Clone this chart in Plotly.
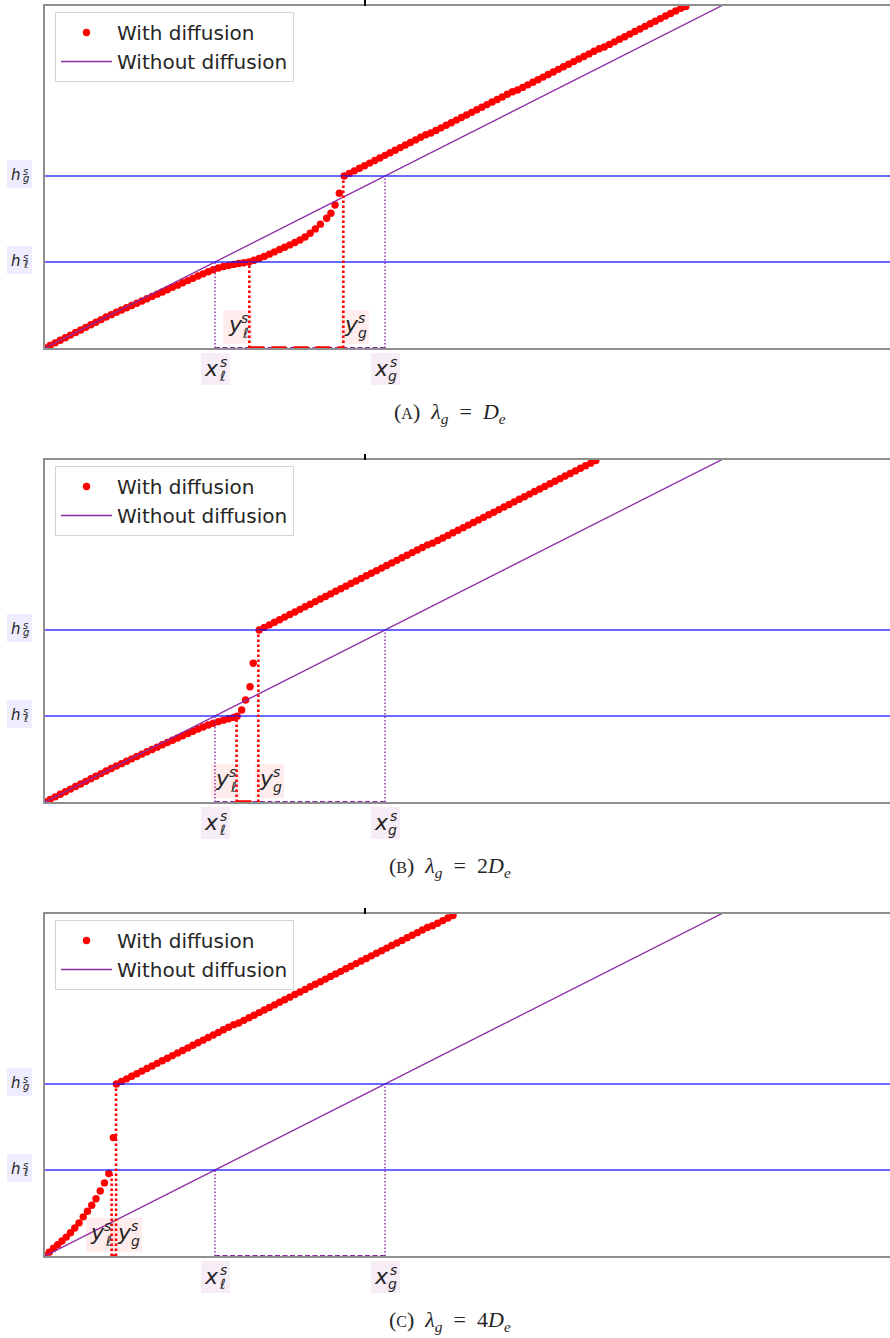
import plotly.graph_objects as go

# ── shared levels (scaled units: h_l^s = x_l^s = 1) ──────────────────────────
H_L, H_G = 1.0, 2.0
X_L, X_G = 1.0, 2.0
SHARP_X = [0.0, 5.0]          # "Without diffusion": straight line h = x
SHARP_Y = [0.0, 5.0]

# ── panel A : λg = De ─────────────────────────────────────────────────────────
A_LOW_X = [0.00, 0.03, 0.06, 0.09, 0.12, 0.15, 0.18, 0.21, 0.24, 0.27, 0.30, 0.33, 0.36,
           0.39, 0.42, 0.45, 0.48, 0.51, 0.54, 0.57, 0.60, 0.63, 0.66, 0.69, 0.72, 0.75,
           0.78, 0.81, 0.84, 0.87, 0.90, 0.93, 0.96, 0.99, 1.02, 1.05, 1.08, 1.11, 1.14,
           1.17, 1.20]
A_LOW_Y = [0.00, 0.03, 0.06, 0.09, 0.12, 0.15, 0.18, 0.21, 0.24, 0.27, 0.30, 0.33, 0.36,
           0.388, 0.415, 0.442, 0.468, 0.494, 0.52, 0.547, 0.573, 0.60, 0.626, 0.652, 0.678,
           0.705, 0.731, 0.758, 0.784, 0.81, 0.837, 0.862, 0.887, 0.91, 0.93, 0.947, 0.96,
           0.972, 0.982, 0.991, 1.0]
A_MID_X = [1.23, 1.26, 1.29, 1.32, 1.35, 1.38, 1.41, 1.44, 1.47, 1.50, 1.53, 1.56, 1.59,
           1.62, 1.657, 1.682, 1.706, 1.731]
A_MID_Y = [1.02, 1.042, 1.065, 1.091, 1.118, 1.145, 1.172, 1.199, 1.226, 1.255, 1.29, 1.335,
           1.385, 1.44, 1.508, 1.566, 1.663, 1.799]
A_UP_X = [1.76, 1.79, 1.82, 1.85, 1.88, 1.91, 1.94, 1.97, 2.00, 2.03, 2.06, 2.09, 2.12, 2.15,
          2.18, 2.21, 2.24, 2.27, 2.30, 2.33, 2.36, 2.39, 2.42, 2.45, 2.48, 2.51, 2.54, 2.57,
          2.60, 2.63, 2.66, 2.69, 2.72, 2.75, 2.78, 2.81, 2.84, 2.87, 2.90, 2.93, 2.96, 2.99,
          3.02, 3.05, 3.08, 3.11, 3.14, 3.17, 3.20, 3.23, 3.26, 3.29, 3.32, 3.35, 3.38, 3.41,
          3.44, 3.47, 3.50, 3.53, 3.56, 3.59, 3.62, 3.65, 3.68, 3.71, 3.74, 3.77]
A_UP_Y = [2.00, 2.03, 2.06, 2.09, 2.12, 2.15, 2.18, 2.21, 2.24, 2.27, 2.30, 2.33, 2.36, 2.39,
          2.42, 2.45, 2.48, 2.50, 2.53, 2.56, 2.59, 2.62, 2.65, 2.68, 2.71, 2.74, 2.77, 2.80,
          2.83, 2.86, 2.89, 2.92, 2.95, 2.98, 3.00, 3.03, 3.06, 3.09, 3.12, 3.15, 3.18, 3.21,
          3.24, 3.27, 3.30, 3.33, 3.36, 3.39, 3.42, 3.45, 3.48, 3.50, 3.53, 3.56, 3.59, 3.62,
          3.65, 3.68, 3.71, 3.74, 3.77, 3.80, 3.83, 3.86, 3.89, 3.92, 3.95, 3.97]
A_YL, A_YG = 1.202, 1.755      # y_l^s, y_g^s
A_YL_TOP = 1.0

# ── panel B : λg = 2De ────────────────────────────────────────────────────────
B_LOW_X = [0.00, 0.03, 0.06, 0.09, 0.12, 0.15, 0.18, 0.21, 0.24, 0.27, 0.30, 0.33, 0.36,
           0.39, 0.42, 0.45, 0.48, 0.51, 0.54, 0.57, 0.60, 0.63, 0.66, 0.69, 0.72, 0.75,
           0.78, 0.81, 0.84, 0.87, 0.90, 0.93, 0.96, 0.99, 1.02, 1.05, 1.08, 1.11, 1.13]
B_LOW_Y = [0.00, 0.03, 0.06, 0.09, 0.12, 0.15, 0.18, 0.21, 0.24, 0.27, 0.30, 0.33, 0.36,
           0.39, 0.418, 0.446, 0.474, 0.502, 0.529, 0.557, 0.584, 0.611, 0.638, 0.665, 0.691,
           0.718, 0.744, 0.77, 0.796, 0.822, 0.848, 0.872, 0.895, 0.916, 0.935, 0.952, 0.968,
           0.984, 0.998]
B_MID_X = [1.157, 1.18, 1.206, 1.225]
B_MID_Y = [1.07, 1.186, 1.34, 1.613]
B_UP_X = [1.26, 1.29, 1.32, 1.35, 1.38, 1.41, 1.44, 1.47, 1.50, 1.53, 1.56, 1.59, 1.62, 1.65,
          1.68, 1.71, 1.74, 1.77, 1.80, 1.83, 1.86, 1.89, 1.92, 1.95, 1.98, 2.01, 2.04, 2.07,
          2.10, 2.13, 2.16, 2.19, 2.22, 2.25, 2.28, 2.31, 2.34, 2.37, 2.40, 2.43, 2.46, 2.49,
          2.52, 2.55, 2.58, 2.61, 2.64, 2.67, 2.70, 2.73, 2.76, 2.79, 2.82, 2.85, 2.88, 2.91,
          2.94, 2.97, 3.00, 3.03, 3.06, 3.09, 3.12, 3.15, 3.18, 3.21, 3.24]
B_UP_Y = [2.00, 2.03, 2.06, 2.09, 2.12, 2.15, 2.18, 2.21, 2.24, 2.27, 2.30, 2.33, 2.36, 2.39,
          2.42, 2.45, 2.48, 2.51, 2.54, 2.57, 2.60, 2.63, 2.66, 2.69, 2.72, 2.75, 2.78, 2.81,
          2.84, 2.87, 2.90, 2.93, 2.96, 2.99, 3.01, 3.04, 3.07, 3.10, 3.13, 3.16, 3.19, 3.22,
          3.25, 3.28, 3.31, 3.34, 3.37, 3.40, 3.43, 3.46, 3.49, 3.52, 3.55, 3.58, 3.61, 3.64,
          3.67, 3.70, 3.73, 3.76, 3.79, 3.82, 3.85, 3.88, 3.91, 3.94, 3.97]
B_YL, B_YG = 1.127, 1.255
B_YL_TOP = 1.0

# ── panel C : λg = 4De ────────────────────────────────────────────────────────
C_LOW_X = [0.0, 0.025, 0.05, 0.075, 0.10, 0.125, 0.15, 0.175, 0.20, 0.225, 0.25, 0.275,
           0.30, 0.325, 0.35, 0.375]
C_LOW_Y = [0.0, 0.045, 0.09, 0.13, 0.175, 0.22, 0.27, 0.325, 0.385, 0.455, 0.52, 0.59,
           0.665, 0.755, 0.85, 0.96]
C_MID_X = [0.402]
C_MID_Y = [1.377]
C_UP_X = [0.42, 0.45, 0.48, 0.51, 0.54, 0.57, 0.60, 0.63, 0.66, 0.69, 0.72, 0.75, 0.78, 0.81,
          0.84, 0.87, 0.90, 0.93, 0.96, 0.99, 1.02, 1.05, 1.08, 1.11, 1.14, 1.17, 1.20, 1.23,
          1.26, 1.29, 1.32, 1.35, 1.38, 1.41, 1.44, 1.47, 1.50, 1.53, 1.56, 1.59, 1.62, 1.65,
          1.68, 1.71, 1.74, 1.77, 1.80, 1.83, 1.86, 1.89, 1.92, 1.95, 1.98, 2.01, 2.04, 2.07,
          2.10, 2.13, 2.16, 2.19, 2.22, 2.25, 2.28, 2.31, 2.34, 2.37, 2.40]
C_UP_Y = [2.00, 2.03, 2.06, 2.09, 2.12, 2.15, 2.18, 2.21, 2.24, 2.27, 2.30, 2.33, 2.36, 2.39,
          2.42, 2.45, 2.48, 2.51, 2.54, 2.57, 2.60, 2.63, 2.66, 2.69, 2.71, 2.74, 2.77, 2.80,
          2.83, 2.86, 2.89, 2.92, 2.95, 2.98, 3.01, 3.04, 3.07, 3.10, 3.13, 3.16, 3.19, 3.22,
          3.25, 3.28, 3.31, 3.34, 3.37, 3.40, 3.43, 3.46, 3.49, 3.52, 3.55, 3.58, 3.61, 3.64,
          3.67, 3.70, 3.73, 3.76, 3.79, 3.82, 3.84, 3.87, 3.90, 3.93, 3.96]
C_YL, C_YG = 0.392, 0.418
C_YL_TOP = 0.97

CAPTIONS = [
    "(<span style='font-size:16px'>A</span>)&nbsp; <i>λ</i><sub><i>g</i></sub>&nbsp; =&nbsp; <i>D</i><sub><i>e</i></sub>",
    "(<span style='font-size:16px'>B</span>)&nbsp; <i>λ</i><sub><i>g</i></sub>&nbsp; =&nbsp; 2<i>D</i><sub><i>e</i></sub>",
    "(<span style='font-size:16px'>C</span>)&nbsp; <i>λ</i><sub><i>g</i></sub>&nbsp; =&nbsp; 4<i>D</i><sub><i>e</i></sub>",
]

PANELS = [
    dict(x=A_LOW_X + A_MID_X + A_UP_X, y=A_LOW_Y + A_MID_Y + A_UP_Y, yl=A_YL, yg=A_YG, yl_top=A_YL_TOP),
    dict(x=B_LOW_X + B_MID_X + B_UP_X, y=B_LOW_Y + B_MID_Y + B_UP_Y, yl=B_YL, yg=B_YG, yl_top=B_YL_TOP),
    dict(x=C_LOW_X + C_MID_X + C_UP_X, y=C_LOW_Y + C_MID_Y + C_UP_Y, yl=C_YL, yg=C_YG, yl_top=C_YL_TOP),
]

# ── style ─────────────────────────────────────────────────────────────────────
W, H = 890, 1338
RED, PURPLE, BLUE = '#ff0000', '#8e2aa6', 'rgba(20,20,255,0.85)'
SPINE = '#8f8f8f'
INK = '#262626'
MATH = 'DejaVu Sans'
TOPS = [6, 460, 914]            # pixel top of each axes box
AX_H = 342                      # axes height in px
X_RANGE = [0, 845 / 170]
Y_RANGE = [0, AX_H / 86]

BOX_X = 'rgba(128,0,128,0.07)'
BOX_Y = 'rgba(255,0,0,0.07)'
BOX_H = 'rgba(0,0,255,0.07)'

KIND = {
    'x': dict(size=22, small=14, box=(29, 32), base=(-3.5, 0.5), sup=(8.5, 7.5), sub=(7.5, -6.5)),
    'y': dict(size=22, small=14, box=(29, 34), base=(-2.5, 3.0), sup=(7.0, 9.0), sub=(8.0, -6.0)),
    'h': dict(size=15, small=10, box=(25, 28), base=(-3.5, -1.5), sup=(6.0, 2.5), sub=(6.5, -4.5)),
}


def sym(fig, x, y, xref, yref, cx, cy, kind, base, sup, sub, bg):
    """Boxed math symbol base^sup_sub with stacked scripts."""
    k = KIND[kind]
    common = dict(x=x, y=y, xref=xref, yref=yref, showarrow=False,
                  xanchor='center', yanchor='middle')
    fig.add_annotation(**common, xshift=cx, yshift=cy, text=' ', width=k['box'][0],
                       height=k['box'][1], bgcolor=bg, borderpad=0, borderwidth=0)
    fig.add_annotation(**common, xshift=cx + k['base'][0], yshift=cy + k['base'][1],
                       text=f'<i>{base}</i>', font=dict(family=MATH, size=k['size'], color=INK))
    fig.add_annotation(**common, xshift=cx + k['sup'][0], yshift=cy + k['sup'][1],
                       text=f'<i>{sup}</i>', font=dict(family=MATH, size=k['small'], color=INK))
    fig.add_annotation(**common, xshift=cx + k['sub'][0], yshift=cy + k['sub'][1],
                       text=f'<i>{sub}</i>', font=dict(family=MATH, size=k['small'], color=INK))


fig = go.Figure()
layout = dict(width=W, height=H, margin=dict(l=0, r=0, t=0, b=0),
              plot_bgcolor='white', paper_bgcolor='white', showlegend=True)

for i, p in enumerate(PANELS, start=1):
    sfx = '' if i == 1 else str(i)
    xr, yr = 'x' + sfx, 'y' + sfx
    top = TOPS[i - 1]
    y_dom = [1 - (top + AX_H) / H, 1 - top / H]
    leg = 'legend' + sfx

    layout['xaxis' + sfx] = dict(domain=[45 / W, 1.0], range=X_RANGE, anchor=yr,
                                 showline=True, mirror=True, linecolor=SPINE, linewidth=1.5,
                                 showgrid=False, zeroline=False, showticklabels=False, ticks='')
    layout['yaxis' + sfx] = dict(domain=y_dom, range=Y_RANGE, anchor=xr,
                                 showline=True, linecolor=SPINE, linewidth=1.5,
                                 showgrid=False, zeroline=False, showticklabels=False, ticks='')
    layout[leg] = dict(x=55 / W, y=1 - (top + 6) / H, xanchor='left', yanchor='top',
                       bgcolor='rgba(255,255,255,0.85)', bordercolor='#d4d4d4', borderwidth=1,
                       font=dict(family='DejaVu Sans', size=20, color=INK),
                       itemwidth=51, tracegroupgap=0)

    fig.add_trace(go.Scatter(x=p['x'], y=p['y'], mode='markers', name='With diffusion',
                             marker=dict(color=RED, size=7.4), xaxis=xr, yaxis=yr,
                             legend=leg, cliponaxis=True))
    fig.add_trace(go.Scatter(x=SHARP_X, y=SHARP_Y, mode='lines', name='Without diffusion',
                             line=dict(color=PURPLE, width=1.3), xaxis=xr, yaxis=yr,
                             legend=leg))

    # horizontal levels h_l^s, h_g^s
    for lvl in (H_L, H_G):
        fig.add_shape(type='line', xref=xr + ' domain', yref=yr, x0=0, x1=1, y0=lvl, y1=lvl,
                      line=dict(color=BLUE, width=1.6))
    # sharp-interface crossings
    for xv, lvl in ((X_L, H_L), (X_G, H_G)):
        fig.add_shape(type='line', xref=xr, yref=yr, x0=xv, x1=xv, y0=0, y1=lvl,
                      line=dict(color=PURPLE, width=1.4, dash='1.5px,2px'))
    fig.add_shape(type='line', xref=xr, yref=yr, x0=X_L, x1=X_G, y0=0, y1=0,
                  line=dict(color=PURPLE, width=1.8, dash='5px,2.5px'))
    # diffuse-interface jump positions
    for xv, lvl in ((p['yl'], p['yl_top']), (p['yg'], H_G)):
        fig.add_shape(type='line', xref=xr, yref=yr, x0=xv, x1=xv, y0=0, y1=lvl,
                      line=dict(color=RED, width=2.6, dash='2.5px,2.5px'))
    fig.add_shape(type='line', xref=xr, yref=yr, x0=p['yl'], x1=p['yg'], y0=0, y1=0,
                  line=dict(color=RED, width=3.5, dash='15px,7px'))

    # boxed labels
    sym(fig, 19.2 / W, H_G, 'paper', yr, 0, 2.2, 'h', 'h', 's', 'g', BOX_H)
    sym(fig, 19.2 / W, H_L, 'paper', yr, 0, 2.2, 'h', 'h', 's', 'ℓ', BOX_H)
    sym(fig, X_L, 0, xr, yr, 0, -21, 'x', 'x', 's', 'ℓ', BOX_X)
    sym(fig, X_G, 0, xr, yr, 0, -21, 'x', 'x', 's', 'g', BOX_X)
    sym(fig, p['yl'], 0, xr, yr, -11.5, 21, 'y', 'y', 's', 'ℓ', BOX_Y)
    sym(fig, p['yg'], 0, xr, yr, 11, 21, 'y', 'y', 's', 'g', BOX_Y)

    # caption
    fig.add_annotation(x=450 / W, y=1 - (top + 407) / H, xref='paper', yref='paper',
                       text=CAPTIONS[i - 1], showarrow=False, xanchor='center', yanchor='middle',
                       font=dict(family='Liberation Serif', size=22, color=INK))
    # stray tick above the top spine
    fig.add_shape(type='line', xref='paper', yref='paper', x0=365 / W, x1=365 / W,
                  y0=1 - top / H, y1=1 - (top - 6) / H, line=dict(color='black', width=2))

fig.update_layout(**layout)
fig.write_html("out.html", config={'displayModeBar': False},
               post_script="document.body.style.margin='0';")
